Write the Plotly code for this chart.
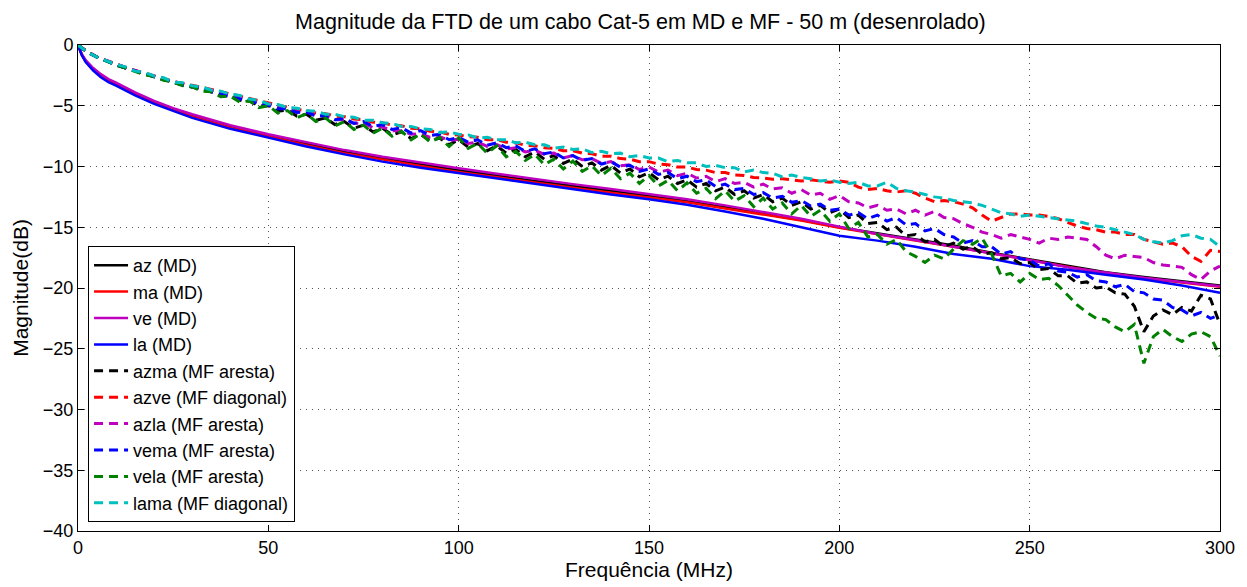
import plotly.graph_objects as go

# ---------------- data ----------------
f_md = [0, 1, 2, 4, 6, 8, 10, 15, 20, 25, 30, 40, 50, 60, 70, 80, 90, 100, 110, 120,
        130, 140, 150, 160, 170, 180, 190, 200, 210, 220, 230, 240, 250, 260, 270,
        280, 290, 300]

az_md = [0, -0.8, -1.3, -2.0, -2.5, -2.9, -3.2, -4.0, -4.7, -5.3, -5.8, -6.7, -7.45,
         -8.15, -8.8, -9.35, -9.85, -10.3, -10.75, -11.2, -11.6, -12.0, -12.4, -12.85,
         -13.35, -13.85, -14.4, -15.0, -15.5, -16.0, -16.5, -17.1, -17.65, -18.2, -18.7,
         -19.1, -19.45, -19.8]
ma_md = [0, -0.8, -1.3, -2.0, -2.55, -2.95, -3.25, -4.05, -4.75, -5.35, -5.9, -6.8,
         -7.55, -8.25, -8.9, -9.45, -9.95, -10.45, -10.9, -11.35, -11.75, -12.15,
         -12.55, -12.95, -13.45, -13.95, -14.45, -15.05, -15.6, -16.1, -16.6, -17.15,
         -17.7, -18.3, -18.8, -19.2, -19.55, -19.9]
ve_md = [0, -0.75, -1.25, -1.9, -2.4, -2.8, -3.1, -3.9, -4.6, -5.2, -5.7, -6.6, -7.35,
         -8.0, -8.65, -9.2, -9.7, -10.15, -10.6, -11.05, -11.45, -11.85, -12.25, -12.7,
         -13.2, -13.75, -14.3, -14.95, -15.55, -16.05, -16.6, -17.1, -17.7, -18.3,
         -18.75, -19.15, -19.5, -19.85]
la_md = [0, -0.85, -1.4, -2.1, -2.65, -3.05, -3.35, -4.15, -4.85, -5.45, -6.0, -6.9,
         -7.65, -8.35, -9.0, -9.6, -10.1, -10.55, -11.0, -11.45, -11.9, -12.3, -12.7,
         -13.15, -13.7, -14.3, -15.0, -15.7, -16.1, -16.6, -17.2, -17.6, -18.2, -18.5,
         -18.9, -19.3, -19.8, -20.4]

# dashed (MF) series sampled every 2.5 MHz, 0 ... 300
f_mf = [i * 2.5 for i in range(121)]

azma_mf = [0, -0.6, -1.0, -1.35, -1.65, -1.9, -2.15, -2.4, -2.6, -2.85, -3.05, -3.3,
           -3.45, -3.7, -3.85, -4.15, -4.2, -4.55, -4.6, -5.0, -5.0, -5.45, -5.35, -5.85,
           -5.7, -6.2, -6.0, -6.55, -6.3, -6.85, -6.6, -7.15, -6.85, -7.4, -7.15, -7.7,
           -7.35, -7.9, -7.65, -8.2, -7.8, -8.4, -8.1, -8.7, -8.3, -8.9, -8.6, -9.2,
           -8.8, -9.4, -9.1, -9.75, -9.4, -10.0, -9.7, -10.3, -9.9, -10.55, -10.2, -10.85,
           -10.5, -11.1, -10.8, -11.4, -11.1, -11.7, -11.4, -12.0, -11.7, -12.3, -12.0,
           -12.6, -12.3, -12.9, -12.6, -13.2, -12.9, -13.5, -13.2, -13.8, -13.5, -14.2,
           -14.0, -14.7, -14.6, -15.2, -15.0, -15.7, -15.6, -16.2, -16.0, -16.6, -16.3,
           -16.8, -16.6, -17.2, -17.1, -17.6, -17.5, -18.0, -17.9, -18.5, -18.4, -19.0,
           -19.0, -19.6, -19.5, -20.0, -19.9, -20.4, -20.5, -21.5, -23.6, -22.3, -21.8,
           -22.2, -21.6, -21.9, -20.6, -20.9, -23.0]

azve_mf = [0, -0.55, -1.0, -1.3, -1.6, -1.85, -2.1, -2.3, -2.5, -2.75, -3.0, -3.15,
           -3.3, -3.5, -3.65, -3.85, -4.0, -4.2, -4.4, -4.6, -4.8, -4.95, -5.1, -5.3,
           -5.4, -5.6, -5.65, -5.85, -5.9, -6.1, -6.15, -6.35, -6.4, -6.6, -6.65, -6.85,
           -6.9, -7.1, -7.15, -7.35, -7.4, -7.55, -7.6, -7.8, -7.8, -8.0, -8.05, -8.25,
           -8.3, -8.45, -8.5, -8.7, -8.7, -8.9, -8.95, -9.15, -9.15, -9.35, -9.4, -9.6,
           -9.6, -9.8, -9.85, -10.05, -10.05, -10.25, -10.3, -10.5, -10.5, -10.7, -10.75,
           -10.9, -10.95, -11.05, -11.0, -11.1, -11.2, -11.1, -11.2, -11.3, -11.2, -11.3,
           -11.7, -11.9, -11.8, -12.0, -12.1, -12.0, -12.2, -12.6, -12.9, -12.8, -12.9,
           -13.1, -13.4, -14.0, -14.5, -14.2, -13.9, -13.9, -14.0, -14.0, -14.1, -14.3,
           -14.6, -14.9, -15.1, -15.2, -15.4, -15.4, -15.6, -15.6, -16.0, -16.2, -16.4,
           -16.3, -16.6, -17.4, -17.8, -16.9, -17.0]

azla_mf = [0, -0.55, -1.0, -1.3, -1.6, -1.85, -2.1, -2.35, -2.55, -2.8, -3.0, -3.2,
           -3.35, -3.6, -3.7, -3.95, -4.05, -4.35, -4.45, -4.75, -4.85, -5.1, -5.2, -5.5,
           -5.5, -5.8, -5.85, -6.15, -6.15, -6.45, -6.45, -6.8, -6.75, -7.05, -7.05, -7.35,
           -7.3, -7.6, -7.55, -7.85, -7.75, -8.1, -8.0, -8.35, -8.2, -8.55, -8.45, -8.8,
           -8.65, -9.0, -8.9, -9.3, -9.1, -9.45, -9.35, -9.75, -9.6, -9.95, -9.85, -10.25,
           -10.05, -10.45, -10.3, -10.75, -10.55, -10.95, -10.8, -11.25, -11.0, -11.4,
           -11.3, -11.7, -11.45, -11.85, -11.75, -12.2, -11.9, -12.35, -12.2, -12.7, -12.4,
           -12.9, -13.0, -13.4, -13.2, -13.6, -13.5, -13.9, -13.6, -14.0, -13.7, -14.2,
           -14.3, -14.7, -15.0, -15.4, -15.6, -15.9, -15.6, -15.8, -16.0, -16.3, -15.9,
           -16.0, -15.8, -15.9, -16.0, -16.6, -17.3, -17.6, -17.3, -17.4, -17.5, -17.9,
           -18.1, -18.2, -18.3, -18.9, -19.3, -18.6, -18.2]

vema_mf = [0, -0.6, -1.0, -1.35, -1.65, -1.9, -2.15, -2.4, -2.6, -2.85, -3.05, -3.3,
           -3.45, -3.65, -3.85, -4.05, -4.2, -4.45, -4.55, -4.85, -4.95, -5.25, -5.25,
           -5.55, -5.5, -5.85, -5.8, -6.15, -6.05, -6.45, -6.3, -6.7, -6.55, -6.95, -6.8,
           -7.25, -7.05, -7.45, -7.35, -7.8, -7.6, -8.0, -7.8, -8.25, -8.05, -8.45, -8.3,
           -8.75, -8.55, -8.95, -8.8, -9.3, -9.1, -9.5, -9.35, -9.8, -9.6, -10.05, -9.9,
           -10.4, -10.2, -10.65, -10.5, -11.0, -10.8, -11.25, -11.1, -11.65, -11.45, -11.9,
           -11.8, -12.3, -12.15, -12.6, -12.45, -12.95, -12.8, -13.25, -13.1, -13.6, -13.5,
           -14.0, -13.8, -14.3, -14.0, -14.5, -14.2, -14.8, -14.7, -15.3, -15.1, -15.6,
           -15.8, -16.3, -16.1, -16.6, -16.6, -17.2, -17.0, -17.6, -17.7, -18.2, -18.0,
           -18.6, -18.7, -19.1, -18.9, -19.4, -19.5, -19.9, -19.7, -20.3, -20.4, -20.9,
           -21.0, -21.6, -21.8, -22.3, -22.0, -22.5, -22.2]

vela_mf = [0, -0.6, -1.0, -1.35, -1.65, -1.9, -2.15, -2.45, -2.6, -2.9, -3.05, -3.35,
           -3.45, -3.8, -3.85, -4.25, -4.2, -4.7, -4.6, -5.15, -5.0, -5.6, -5.4, -6.0,
           -5.65, -6.3, -6.0, -6.65, -6.3, -6.95, -6.6, -7.25, -6.85, -7.5, -7.1, -7.8,
           -7.3, -8.0, -7.6, -8.35, -7.65, -8.5, -8.1, -8.9, -8.3, -9.2, -8.75, -9.5,
           -9.0, -9.85, -9.4, -10.2, -9.55, -10.4, -9.95, -10.75, -10.15, -11.0, -10.55,
           -11.4, -10.75, -11.6, -11.15, -12.0, -11.35, -12.2, -11.8, -12.65, -12.0, -12.85,
           -12.4, -13.3, -12.6, -13.5, -13.0, -13.9, -13.2, -14.1, -13.6, -14.5, -13.9,
           -15.1, -14.6, -15.8, -15.6, -16.4, -16.0, -17.0, -17.4, -17.9, -17.3, -17.6,
           -16.8, -16.1, -16.4, -15.9, -17.2, -19.0, -18.8, -19.5, -18.8, -19.3, -19.2,
           -19.8, -20.6, -21.4, -22.0, -22.5, -22.6, -23.2, -23.6, -23.0, -26.2, -24.0,
           -23.4, -24.0, -24.4, -23.8, -23.6, -24.0, -25.6]

lama_mf = [0, -0.6, -1.0, -1.3, -1.6, -1.8, -2.15, -2.25, -2.55, -2.7, -3.05, -3.1,
           -3.35, -3.45, -3.7, -3.8, -4.05, -4.15, -4.45, -4.55, -4.85, -4.9, -5.15, -5.2,
           -5.4, -5.45, -5.7, -5.7, -5.9, -5.95, -6.2, -6.2, -6.4, -6.45, -6.7, -6.7,
           -6.9, -6.95, -7.2, -7.15, -7.35, -7.4, -7.65, -7.6, -7.8, -7.8, -8.05, -8.0,
           -8.2, -8.2, -8.5, -8.4, -8.6, -8.55, -8.85, -8.75, -8.95, -8.9, -9.2, -9.1,
           -9.3, -9.3, -9.6, -9.5, -9.7, -9.7, -10.0, -9.9, -10.1, -10.1, -10.45, -10.3,
           -10.5, -10.55, -10.85, -10.7, -10.9, -11.0, -11.2, -11.1, -11.3, -11.4, -11.3,
           -11.6, -11.6, -11.3, -11.8, -12.0, -12.1, -12.3, -12.5, -12.6, -12.8, -12.9,
           -13.0, -13.2, -13.5, -13.8, -13.9, -14.1, -14.0, -14.1, -14.2, -14.3, -14.4,
           -14.5, -14.7, -14.9, -15.0, -15.2, -15.4, -15.6, -16.0, -16.2, -16.3, -16.1,
           -15.7, -15.6, -15.9, -16.0, -16.6]

series = [
    ("az (MD)", f_md, az_md, "#000000", "solid"),
    ("ma (MD)", f_md, ma_md, "#FF0000", "solid"),
    ("ve (MD)", f_md, ve_md, "#BF00BF", "solid"),
    ("la (MD)", f_md, la_md, "#0000FF", "solid"),
    ("azma (MF aresta)", f_mf, azma_mf, "#000000", "dash"),
    ("azve (MF diagonal)", f_mf, azve_mf, "#FF0000", "dash"),
    ("azla (MF aresta)", f_mf, azla_mf, "#BF00BF", "dash"),
    ("vema (MF aresta)", f_mf, vema_mf, "#0000FF", "dash"),
    ("vela (MF aresta)", f_mf, vela_mf, "#008000", "dash"),
    ("lama (MF diagonal)", f_mf, lama_mf, "#00BFBF", "dash"),
]

x_ticks = [0, 50, 100, 150, 200, 250, 300]
y_ticks = [-40, -35, -30, -25, -20, -15, -10, -5, 0]

# ---------------- figure ----------------
fig = go.Figure()
for name, xs, ys, color, style in series:
    fig.add_trace(go.Scatter(
        x=xs, y=ys, mode="lines", name=name,
        line=dict(color=color, width=2.5 if style == "solid" else 3,
                  dash="solid" if style == "solid" else "9px,6px"),
    ))

FONT = "Liberation Sans, Arial, sans-serif"
axis_common = dict(
    showline=True, linecolor="black", linewidth=1, mirror="ticks",
    ticks="inside", ticklen=6, tickcolor="black",
    showgrid=True, gridcolor="#555555", griddash="1px,5px", gridwidth=1,
    zeroline=False, tickfont=dict(size=18, color="black", family=FONT),
    automargin=False,
)

# page body has an 8px margin, so the figure is 8px smaller than the window
fig.update_layout(
    width=1239, height=579,
    margin=dict(l=70, r=27, t=37, b=56),
    paper_bgcolor="white", plot_bgcolor="white",
    font=dict(family=FONT, color="black"),
    title=dict(text="Magnitude da FTD de um cabo Cat-5 em MD e MF - 50 m (desenrolado)",
               x=0.4925, xanchor="center", xref="paper", y=0.977, yanchor="middle",
               font=dict(size=21.5, family=FONT, color="black")),
    xaxis=dict(range=[0, 300], tickvals=x_ticks,
               title=dict(text="Frequência (MHz)", font=dict(size=21), standoff=3),
               **axis_common),
    yaxis=dict(range=[-40, 0], tickvals=y_ticks,
               title=dict(text="Magnitude(dB)", font=dict(size=21), standoff=8),
               **axis_common),
    legend=dict(x=0.0088, y=0.0185, xanchor="left", yanchor="bottom",
                bgcolor="white", bordercolor="black", borderwidth=1,
                font=dict(size=18, family=FONT, color="black"),
                tracegroupgap=0, itemwidth=34),
    showlegend=True,
)

fig.write_html("out.html")
